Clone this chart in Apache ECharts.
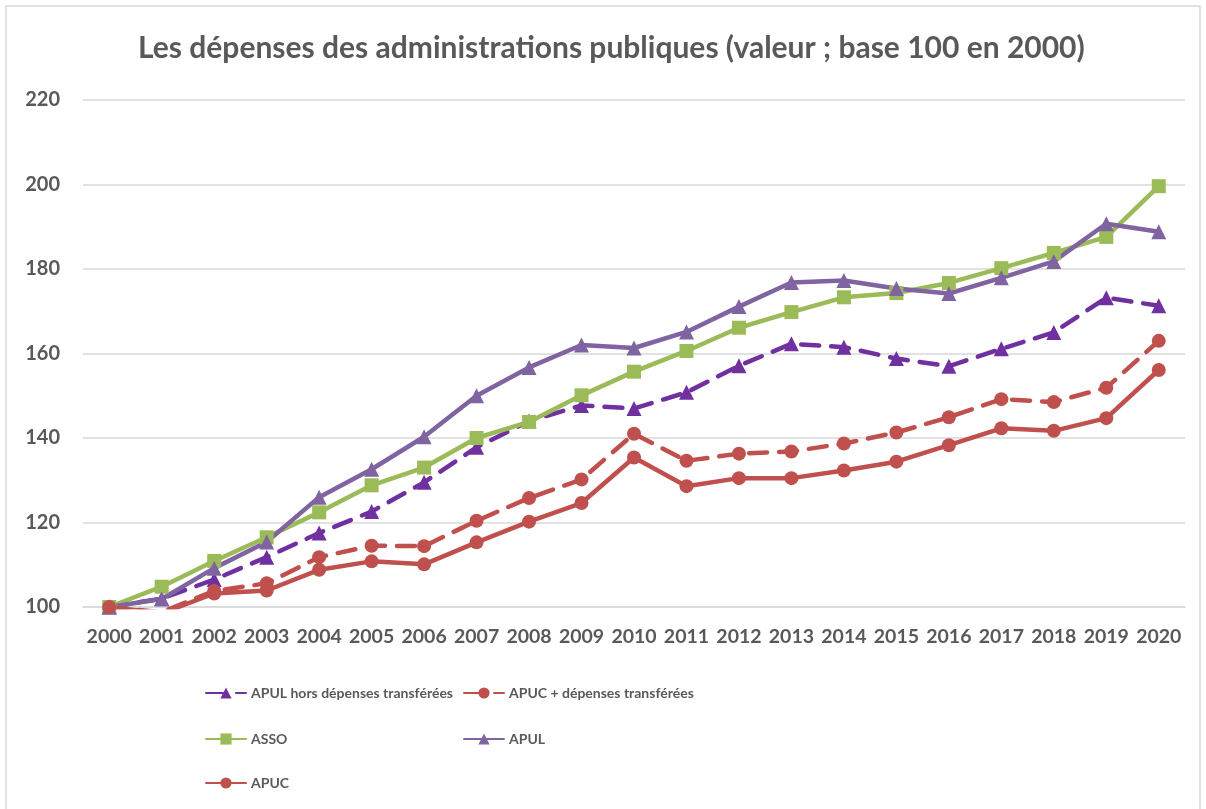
<!DOCTYPE html>
<html>
<head>
<meta charset="utf-8">
<script src="https://cdn.jsdelivr.net/npm/echarts@6/dist/echarts.min.js"></script>
<style>
html,body{margin:0;padding:0;background:#fff;}
#main{width:1206px;height:809px;}
</style>
</head>
<body>
<div id="main"></div>
<script>
// données (base 100 en 2000)
var annees = ['2000','2001','2002','2003','2004','2005','2006','2007','2008','2009','2010',
              '2011','2012','2013','2014','2015','2016','2017','2018','2019','2020'];
var apulHors = [100, 102, 106.5, 111.8, 117.5, 122.6, 129.5, 137.8, 144, 147.7, 147,
                150.8, 157.1, 162.3, 161.5, 158.8, 157, 161.1, 165, 173.2, 171.3];
var apucPlus = [100, 98.8, 103.8, 105.6, 111.8, 114.5, 114.4, 120.4, 125.8, 130.2, 141,
                134.6, 136.3, 136.8, 138.7, 141.3, 144.9, 149.2, 148.5, 151.9, 163];
var asso = [100, 104.8, 110.9, 116.5, 122.4, 128.8, 133, 140, 143.8, 150.1, 155.7,
            160.6, 166.1, 169.8, 173.3, 174.3, 176.7, 180.2, 183.8, 187.6, 199.6];
var apul = [100, 101.9, 109.2, 115.4, 126, 132.6, 140.3, 150, 156.7, 162, 161.3,
            165.1, 171.1, 176.8, 177.3, 175.4, 174.2, 177.9, 181.8, 190.7, 188.8];
var apuc = [100, 98.5, 103.2, 103.9, 108.8, 110.8, 110.1, 115.3, 120.2, 124.6, 135.4,
            128.6, 130.5, 130.5, 132.3, 134.4, 138.3, 142.3, 141.7, 144.7, 156.1];
var ticksY = [100, 120, 140, 160, 180, 200, 220];

var police = 'Lato, "Open Sans", sans-serif';
var gris = '#595959';

var myChart = echarts.init(document.getElementById('main'));

function legende(nom, x, y) {
    return {
        data: [nom],
        left: x,
        top: y,
        itemWidth: 40,
        itemHeight: 14,
        itemGap: 0,
        textStyle: {color: gris, fontSize: 14, fontWeight: 'bold', fontFamily: police},
        selectedMode: false
    };
}

function serie(nom, data, couleur, symbole, taille, pointille) {
    return {
        name: nom,
        type: 'line',
        data: data,
        symbol: symbole,
        symbolSize: taille,
        showSymbol: true,
        clip: true,
        itemStyle: {color: couleur},
        lineStyle: {
            color: couleur,
            width: 4.5,
            type: pointille ? [18, 12] : 'solid',
            cap: 'round'
        },
        emphasis: {disabled: true},
        animation: false
    };
}

var option = {
    backgroundColor: '#fff',
    title: {
        text: 'Les dépenses des administrations publiques (valeur ; base 100 en 2000)',
        left: 133,
        top: 28,
        textStyle: {color: gris, fontSize: 30, fontWeight: 'bold', fontFamily: police}
    },
    graphic: [{
        type: 'rect',
        shape: {x: 6, y: 6, width: 1194, height: 830},
        style: {fill: 'none', stroke: '#d9d9d9', lineWidth: 1.5},
        silent: true
    }],
    legend: [
        legende('APUL hors dépenses transférées', 200, 681),
        legende('APUC + dépenses transférées', 458, 681),
        legende('ASSO', 200, 727),
        legende('APUL', 458, 727),
        legende('APUC', 200, 771)
    ],
    grid: {left: 83, right: 21, top: 100, bottom: 202, containLabel: false},
    xAxis: {
        type: 'category',
        data: annees,
        boundaryGap: true,
        axisLine: {show: true, lineStyle: {color: '#d9d9d9', width: 1.5}},
        axisTick: {show: false},
        axisLabel: {color: gris, fontSize: 19.5, fontWeight: 'bold', fontFamily: police, margin: 20, interval: 0}
    },
    yAxis: {
        type: 'value',
        min: ticksY[0],
        max: ticksY[ticksY.length - 1],
        interval: 20,
        axisLine: {show: false},
        axisTick: {show: false},
        splitLine: {lineStyle: {color: '#d9d9d9', width: 1.5}},
        axisLabel: {color: gris, fontSize: 20, fontWeight: 'bold', fontFamily: police, margin: 23}
    },
    series: [
        serie('APUL hors dépenses transférées', apulHors, '#7030A0', 'triangle', 15, true),
        serie('APUC + dépenses transférées', apucPlus, '#C0504D', 'circle', 14, true),
        serie('ASSO', asso, '#9BBB59', 'rect', 14, false),
        serie('APUL', apul, '#8064A2', 'triangle', 15, false),
        serie('APUC', apuc, '#C0504D', 'circle', 14, false)
    ]
};
myChart.setOption(option);
</script>
</body>
</html>
